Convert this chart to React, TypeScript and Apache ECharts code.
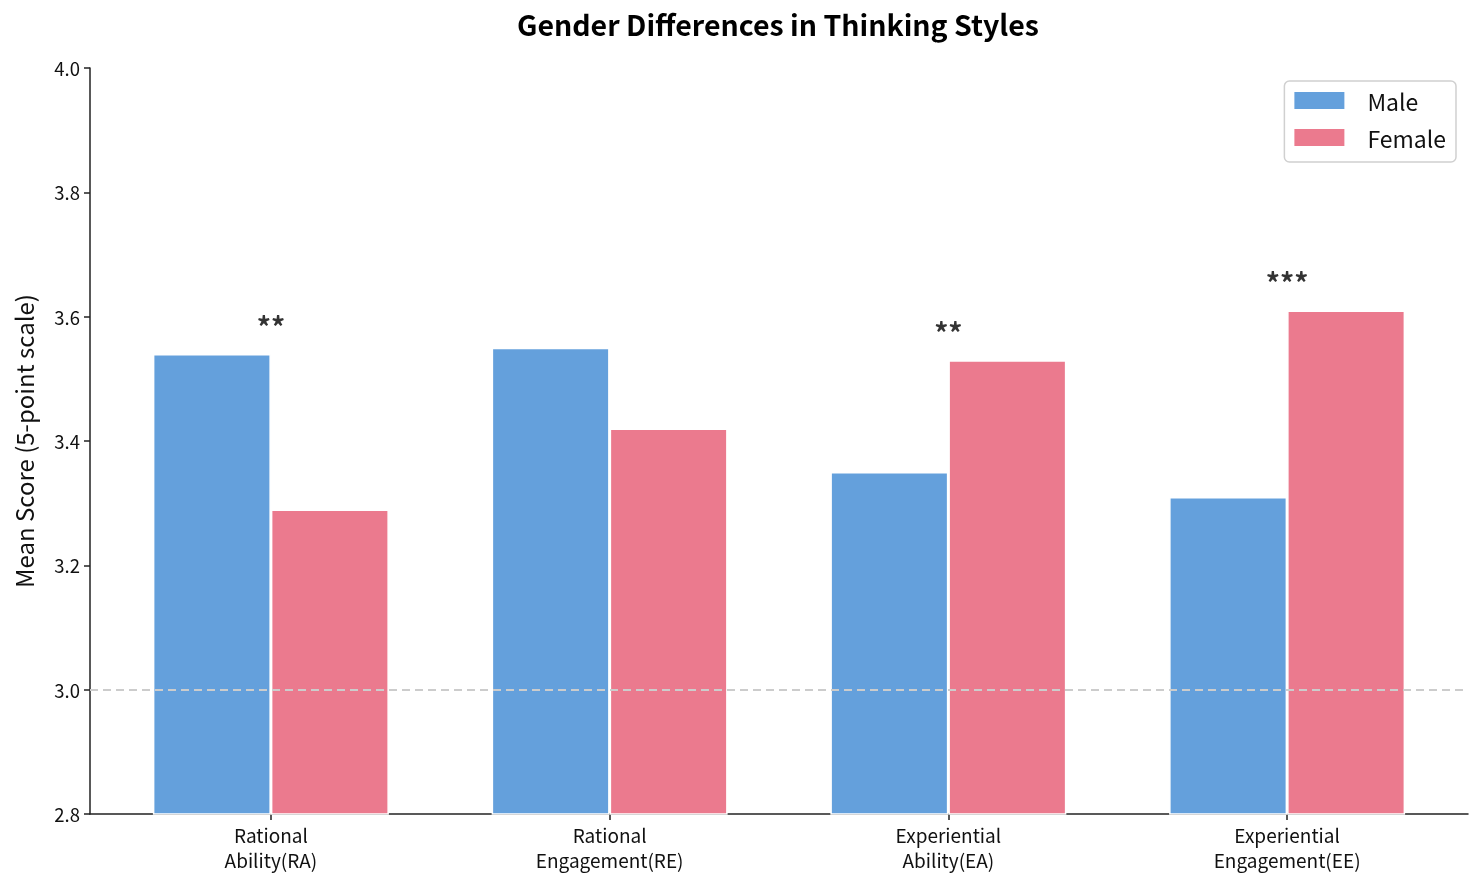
import React, { useEffect, useRef } from "react";
import * as echarts from "echarts";

const categories = ["Rational\nAbility(RA)", "Rational\nEngagement(RE)", "Experiential\nAbility(EA)", "Experiential\nEngagement(EE)"];
const maleValues = [3.54, 3.55, 3.35, 3.31];
const femaleValues = [3.29, 3.42, 3.53, 3.61];
const significance = ["**", "", "**", "***"];
const yTicks = [2.8, 3.0, 3.2, 3.4, 3.6, 3.8, 4.0];

const FONT = "'Noto Sans CJK KR', 'Noto Sans', sans-serif";

export default function App() {
  const ref = useRef<HTMLDivElement>(null);
  useEffect(() => {
    if (!ref.current) return;
    const chart = echarts.init(ref.current, null, { renderer: "svg" });
    const idx = categories.map((_, i) => i);
    const starData = idx
      .filter((i) => significance[i] !== "")
      .map((i) => ({ value: [i, Math.max(maleValues[i], femaleValues[i]) + 0.045], label: significance[i] }));
    chart.setOption({
      animation: false,
      textStyle: { fontFamily: FONT },
      graphic: [
        {
          type: "text",
          left: 779 - 262,
          top: 9,
          style: {
            text: "Gender Differences in Thinking Styles",
            font: `bold 28.5px ${FONT}`,
            fill: "#000",
          },
        },
      ],
      legend: {
        right: 28,
        top: 81,
        orient: "vertical",
        icon: "rect",
        itemWidth: 50,
        itemHeight: 17,
        itemGap: 14,
        padding: [8, 10, 13, 10],
        borderColor: "#d0d0d0",
        borderWidth: 1.5,
        borderRadius: 5,
        textStyle: { fontFamily: FONT, fontSize: 23, color: "#111", padding: [0, 0, 0, 18] },
        data: [
          { name: "Male", itemStyle: { color: "#64A0DC", borderWidth: 0 } },
          { name: "Female", itemStyle: { color: "#EB7A8E", borderWidth: 0 } },
        ],
      },
      grid: { left: 90, right: 16, top: 68, bottom: 75, containLabel: false },
      xAxis: {
        type: "value",
        min: -0.534,
        max: 3.534,
        splitLine: { show: false },
        axisLine: { show: true, onZero: false, lineStyle: { color: "#222", width: 1.5 } },
        axisTick: { show: true, customValues: idx, length: 6, lineStyle: { color: "#222", width: 1.5 } },
        axisLabel: {
          customValues: idx,
          formatter: (v: number) => categories[Math.round(v)] ?? "",
          fontFamily: FONT,
          fontSize: 19,
          color: "#111",
          lineHeight: 25,
          margin: 8,
        },
      },
      yAxis: {
        type: "value",
        min: 2.8,
        max: 4.0,
        interval: 0.2,
        name: "Mean Score (5-point scale)",
        nameLocation: "middle",
        nameGap: 55,
        nameTextStyle: { fontFamily: FONT, fontSize: 24, color: "#111" },
        splitLine: { show: false },
        axisLine: { show: true, onZero: false, lineStyle: { color: "#222", width: 1.5 } },
        axisTick: { show: true, length: 6, lineStyle: { color: "#222", width: 1.5 } },
        axisLabel: {
          formatter: (v: number) => (yTicks.some((t) => Math.abs(t - v) < 1e-6) ? v.toFixed(1) : ""),
          fontFamily: FONT,
          fontSize: 18.5,
          color: "#111",
          margin: 10,
        },
      },
      series: [
        {
          name: "Male",
          type: "bar",
          barWidth: 118,
          barGap: "0%",
          data: idx.map((i) => [i, maleValues[i]]),
          itemStyle: { color: "#64A0DC", borderColor: "#ffffff", borderWidth: 1.5 },
          markLine: {
            silent: true,
            symbol: "none",
            label: { show: false },
            lineStyle: { color: "#cccccc", type: [8, 5], width: 2 },
            data: [{ yAxis: 3.0 }],
          },
        },
        {
          name: "Female",
          type: "bar",
          barWidth: 118,
          barGap: "0%",
          data: idx.map((i) => [i, femaleValues[i]]),
          itemStyle: { color: "#EB7A8E", borderColor: "#ffffff", borderWidth: 1.5 },
        },
        {
          name: "sig",
          type: "scatter",
          symbolSize: 0,
          silent: true,
          data: starData.map((d) => ({ value: d.value, name: d.label })),
          label: {
            show: true,
            position: "inside",
            formatter: (p: any) => p.name,
            fontFamily: FONT,
            fontSize: 28,
            fontWeight: "bold",
            color: "#000",
          },
        },
      ],
    });
    return () => chart.dispose();
  }, []);
  return <div ref={ref} style={{ position: "fixed", left: 0, top: 0, width: 1484, height: 889 }} />;
}
